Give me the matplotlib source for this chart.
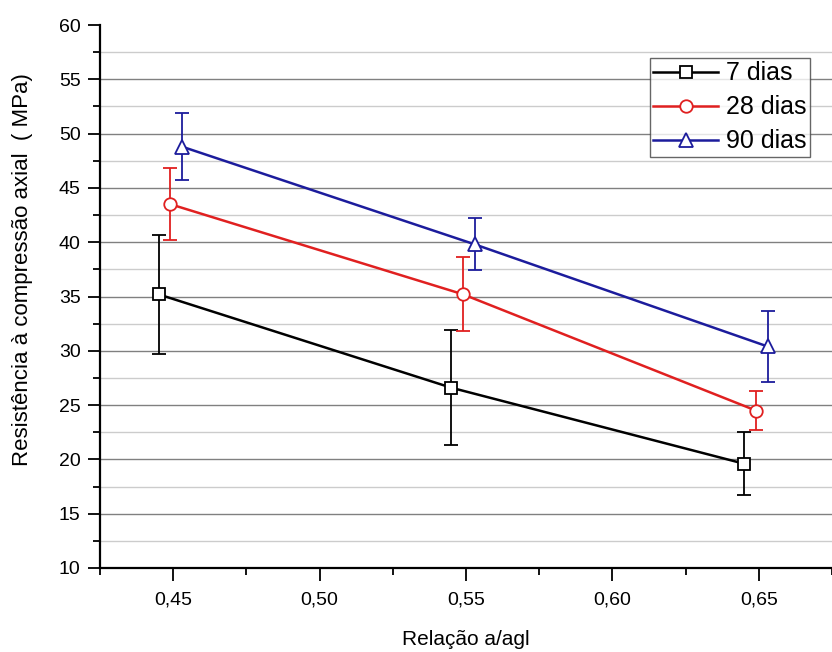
import numpy as np
import matplotlib.pyplot as plt
from matplotlib.ticker import MultipleLocator, FuncFormatter

plt.rcParams['font.family'] = ['Liberation Sans', 'DejaVu Sans']

relacao = [0.45, 0.55, 0.65]
deslocamento = {'7 dias': -0.005, '28 dias': -0.001, '90 dias': 0.003}

res_7 = [35.2, 26.6, 19.6]
err_7 = [5.5, 5.3, 2.9]
res_28 = [43.5, 35.2, 24.5]
err_28 = [3.3, 3.4, 1.8]
res_90 = [48.8, 39.8, 30.4]
err_90 = [3.1, 2.4, 3.3]

series = [
    ('7 dias', res_7, err_7, 'black', 's', 8),
    ('28 dias', res_28, err_28, '#e02020', 'o', 9),
    ('90 dias', res_90, err_90, '#1c1c9c', '^', 10),
]

fig = plt.figure(figsize=(8.32, 6.52), dpi=100)
ax = fig.add_axes([100 / 832, 84 / 652, 732 / 832, 543 / 652])

for nome, y, e, cor, mk, ms in series:
    x = [v + deslocamento[nome] for v in relacao]
    ax.errorbar(x, y, yerr=e, fmt='none', ecolor=cor, elinewidth=1.3,
                capsize=5, capthick=1.3, zorder=3)
    ax.plot(x, y, color=cor, lw=1.8, marker=mk, markersize=ms,
            markerfacecolor='white', markeredgecolor=cor, markeredgewidth=1.3,
            label=nome, zorder=4)

ax.set_xlim(0.425, 0.675)
ax.set_ylim(10, 60)
ax.xaxis.set_major_locator(MultipleLocator(0.05))
ax.xaxis.set_minor_locator(MultipleLocator(0.025))
ax.yaxis.set_major_locator(MultipleLocator(5))
ax.yaxis.set_minor_locator(MultipleLocator(2.5))
ax.xaxis.set_major_formatter(FuncFormatter(lambda v, p: f'{v:.2f}'.replace('.', ',')))

# linhas de grade (sem a linha do topo em 60)
for g in np.arange(12.5, 60, 2.5):
    major = abs(g % 5) < 1e-9
    ax.axhline(g, color='#808080' if major else '#cccccc', lw=1, zorder=1)

ax.spines['top'].set_visible(False)
ax.spines['right'].set_visible(False)
ax.spines['left'].set_linewidth(1.6)
ax.spines['bottom'].set_linewidth(1.6)
ax.tick_params(which='major', direction='out', length=9, width=1.3, labelsize=14)
ax.tick_params(which='minor', direction='out', length=5, width=1.3)
ax.tick_params(axis='x', pad=8)
ax.tick_params(axis='y', pad=5)

ax.set_xlabel('Relação a/agl', fontsize=15)
ax.xaxis.set_label_coords(0.5, -0.115)
ax.set_ylabel('Resistência à compressão axial  ( MPa)', fontsize=16)
ax.yaxis.set_label_coords(-0.092, 0.55)

leg = ax.legend(loc='upper right', bbox_to_anchor=(0.97, 0.94), fontsize=18,
                frameon=True, fancybox=False, edgecolor='#404040',
                handlelength=2.6, handletextpad=0.3, labelspacing=0.4,
                borderpad=0.15, borderaxespad=0)
leg.get_frame().set_linewidth(1)

fig.savefig('out.png', dpi=100)
